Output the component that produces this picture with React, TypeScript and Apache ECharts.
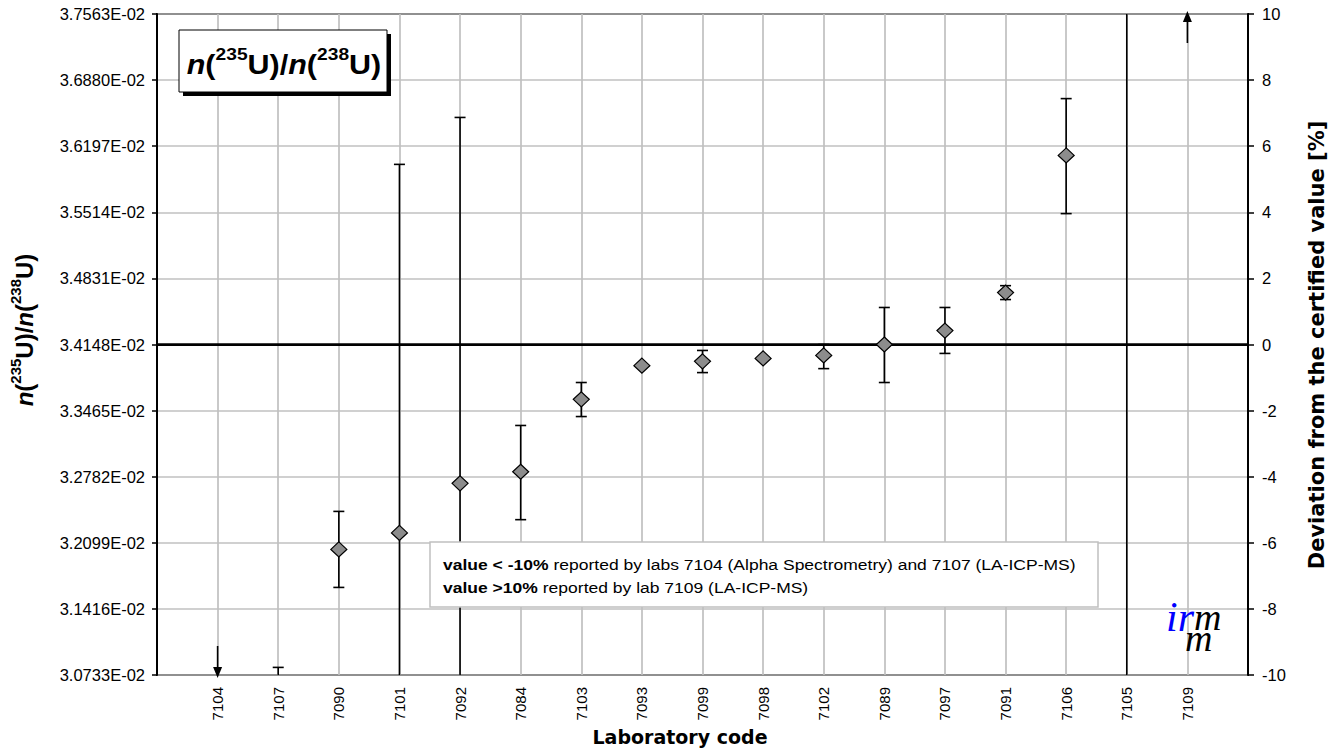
import React, { useEffect, useRef } from "react";
import * as echarts from "echarts";

// Laboratory codes (x categories)
const labs = ["7104", "7107", "7090", "7101", "7092", "7084", "7103", "7093", "7099", "7098", "7102", "7089", "7097", "7091", "7106", "7105", "7109"];
// Deviation from certified value [%] (null = not plotted / off scale)
const deviation = [null, null, -6.2, -5.7, -4.2, -3.85, -1.66, -0.64, -0.51, -0.42, -0.33, 0.0, 0.42, 1.57, 5.72, null, null];
// Upper / lower uncertainty limits [%] (values beyond +/-10 run off scale)
const upperLimit = [null, -9.77, -5.05, 5.45, 6.87, -2.45, -1.15, null, -0.18, null, 0.0, 1.12, 1.12, 1.78, 7.44, 12, null];
const lowerLimit = [null, -12, -7.35, -16.85, -15.3, -5.3, -2.18, null, -0.85, null, -0.73, -1.15, -0.27, 1.36, 3.96, -12, null];
// Off-scale results shown with arrows
const belowRangeLabs = ["7104"];
const aboveRangeLabs = ["7109"];
// Left axis tick labels (absolute ratio), bottom to top
const leftTickLabels = ["3.0733E-02", "3.1416E-02", "3.2099E-02", "3.2782E-02", "3.3465E-02", "3.4148E-02", "3.4831E-02", "3.5514E-02", "3.6197E-02", "3.6880E-02", "3.7563E-02"];
const certifiedDeviation = 0;

const categories = ["", ...labs, ""];

export default function App() {
  const ref = useRef<HTMLDivElement>(null);
  useEffect(() => {
    if (!ref.current) return;
    const chart = echarts.init(ref.current, null, { renderer: "svg" });
    const yMin = -10;
    const yMax = 10;
    const sx = 1.13;

    const errData: any[] = [];
    labs.forEach((l, i) => {
      if (upperLimit[i] != null && lowerLimit[i] != null) errData.push([i + 1, upperLimit[i], lowerLimit[i]]);
    });
    const pointData: any[] = [];
    labs.forEach((l, i) => {
      if (deviation[i] != null) pointData.push([l, deviation[i]]);
    });
    const arrowData: any[] = [];
    labs.forEach((l, i) => {
      if (belowRangeLabs.includes(l)) arrowData.push([i + 1, -1]);
      if (aboveRangeLabs.includes(l)) arrowData.push([i + 1, 1]);
    });

    const tickFont = "Liberation Sans";
    const titleRich = (big: number, small: number, lh: number) => ({
      i: { fontFamily: "Liberation Sans", fontWeight: "bold", fontStyle: "italic", fontSize: big, fill: "#000", verticalAlign: "bottom", lineHeight: lh },
      b: { fontFamily: "Liberation Sans", fontWeight: "bold", fontSize: big, fill: "#000", verticalAlign: "bottom", lineHeight: lh },
      s: { fontFamily: "Liberation Sans", fontWeight: "bold", fontSize: small, fill: "#000", verticalAlign: "top", lineHeight: lh },
    });
    const titleText = "{i|n}{b|(}{s|235}{b|U)/}{i|n}{b|(}{s|238}{b|U)}";

    const option: any = {
      animation: false,
      backgroundColor: "#fff",
      grid: { left: 157, right: 83, top: 14, bottom: 74, show: true, borderColor: "#000", borderWidth: 2, backgroundColor: "#fff" },
      xAxis: {
        type: "category",
        data: categories,
        boundaryGap: false,
        axisLine: { lineStyle: { color: "#000", width: 2 } },
        axisTick: { show: false },
        axisLabel: { interval: 0, rotate: 90, margin: 12, color: "#000", fontFamily: tickFont, fontSize: 15 },
        splitLine: { show: true, interval: 0, lineStyle: { color: "#c0c0c0", width: 1.7 } },
      },
      yAxis: [
        {
          type: "value",
          min: yMin,
          max: yMax,
          interval: 2,
          position: "left",
          axisLine: { show: true, lineStyle: { color: "#000", width: 2 } },
          axisTick: { show: true, length: 5, lineStyle: { color: "#000", width: 1.5 } },
          axisLabel: {
            color: "#000",
            fontFamily: tickFont,
            fontSize: 16.5,
            margin: 12,
            formatter: (v: number) => leftTickLabels[Math.round((v - yMin) / 2)] ?? "",
          },
          splitLine: { show: true, lineStyle: { color: "#c0c0c0", width: 1.7 } },
        },
        {
          type: "value",
          min: yMin,
          max: yMax,
          interval: 2,
          position: "right",
          axisLine: { show: true, lineStyle: { color: "#000", width: 2 } },
          axisTick: { show: true, length: 6, lineStyle: { color: "#000", width: 1.5 } },
          axisLabel: { color: "#000", fontFamily: tickFont, fontSize: 16.5, margin: 14 },
          splitLine: { show: false },
        },
      ],
      series: [
        {
          type: "custom",
          name: "uncertainty",
          xAxisIndex: 0,
          yAxisIndex: 1,
          z: 3,
          clip: true,
          data: errData,
          encode: { x: 0, y: [1, 2] },
          renderItem: (params: any, api: any) => {
            const xi = api.value(0);
            const hi = api.value(1);
            const lo = api.value(2);
            const pHi = api.coord([xi, Math.min(hi, yMax)]);
            const pLo = api.coord([xi, Math.max(lo, yMin)]);
            const st = { stroke: "#000", lineWidth: 1.6 };
            const cap = 5.5;
            const children: any[] = [
              { type: "line", shape: { x1: pHi[0], y1: pHi[1], x2: pLo[0], y2: pLo[1] }, style: st },
            ];
            if (hi <= yMax) children.push({ type: "line", shape: { x1: pHi[0] - cap, y1: pHi[1], x2: pHi[0] + cap, y2: pHi[1] }, style: st });
            if (lo >= yMin) children.push({ type: "line", shape: { x1: pLo[0] - cap, y1: pLo[1], x2: pLo[0] + cap, y2: pLo[1] }, style: st });
            return { type: "group", children };
          },
          markLine: {
            silent: true,
            symbol: "none",
            label: { show: false },
            lineStyle: { color: "#000", width: 2.5, type: "solid" },
            data: [{ yAxis: certifiedDeviation }],
          },
        },
        {
          type: "custom",
          name: "offscale",
          xAxisIndex: 0,
          yAxisIndex: 1,
          z: 4,
          data: arrowData,
          encode: { x: 0, y: 1 },
          renderItem: (params: any, api: any) => {
            const xi = api.value(0);
            const dir = api.value(1);
            const edge = api.coord([xi, dir < 0 ? yMin : yMax]);
            const tipY = edge[1] - dir * 3;
            const tailY = tipY + dir * 32;
            const headY = tipY + dir * 11;
            return {
              type: "group",
              children: [
                { type: "line", shape: { x1: edge[0], y1: tailY, x2: edge[0], y2: headY }, style: { stroke: "#000", lineWidth: 1.6 } },
                { type: "polygon", shape: { points: [[edge[0], tipY], [edge[0] - 4.5, headY], [edge[0] + 4.5, headY]] }, style: { fill: "#000" } },
              ],
            };
          },
        },
        {
          type: "scatter",
          name: "result",
          xAxisIndex: 0,
          yAxisIndex: 1,
          z: 5,
          symbol: "diamond",
          symbolSize: [16, 15],
          itemStyle: { color: "#8c8c8c", borderColor: "#000", borderWidth: 1.2, opacity: 1 },
          data: pointData,
        },
      ],
      graphic: [
        // title box
        { type: "rect", shape: { x: 183, y: 34, width: 208, height: 62 }, style: { fill: "#000" }, z: 10 },
        { type: "rect", shape: { x: 179, y: 30, width: 208, height: 62 }, style: { fill: "#fff", stroke: "#000", lineWidth: 1 }, z: 11 },
        {
          type: "text",
          x: 284,
          y: 62,
          z: 12,
          scaleX: sx,
          style: { text: titleText, align: "center", verticalAlign: "middle", rich: titleRich(27, 17, 32) },
        },
        // left axis title
        {
          type: "text",
          x: 22,
          y: 330,
          rotation: Math.PI / 2,
          style: { text: titleText, align: "center", verticalAlign: "middle", rich: titleRich(24, 15, 28) },
        },
        // right axis title
        {
          type: "text",
          x: 1317,
          y: 345,
          rotation: Math.PI / 2,
          style: {
            text: "Deviation from the certified value [%]",
            align: "center",
            verticalAlign: "middle",
            fontFamily: "DejaVu Sans",
            fontWeight: "bold",
            fontSize: 21,
            fill: "#000",
          },
        },
        // x axis title
        {
          type: "text",
          x: 680,
          y: 737,
          style: {
            text: "Laboratory code",
            align: "center",
            verticalAlign: "middle",
            fontFamily: "DejaVu Sans",
            fontWeight: "bold",
            fontSize: 19,
            fill: "#000",
          },
        },
        // note box
        { type: "rect", shape: { x: 430, y: 542, width: 668, height: 65 }, style: { fill: "#fff", stroke: "#c0c0c0", lineWidth: 1.5 }, z: 10 },
        {
          type: "text",
          x: 443,
          y: 565,
          z: 11,
          scaleX: sx,
          style: {
            text: "{b|value < -10%} reported by labs 7104 (Alpha Spectrometry) and 7107 (LA-ICP-MS)",
            verticalAlign: "middle",
            fontFamily: "Liberation Sans",
            fontSize: 15.5,
            fill: "#000",
            rich: { b: { fontFamily: "Liberation Sans", fontSize: 15.5, fontWeight: "bold", fill: "#000" } },
          },
        },
        {
          type: "text",
          x: 443,
          y: 588,
          z: 11,
          scaleX: sx,
          style: {
            text: "{b|value >10%} reported by lab 7109 (LA-ICP-MS)",
            verticalAlign: "middle",
            fontFamily: "Liberation Sans",
            fontSize: 15.5,
            fill: "#000",
            rich: { b: { fontFamily: "Liberation Sans", fontSize: 15.5, fontWeight: "bold", fill: "#000" } },
          },
        },
        // irm logo (single rich text)
        {
          type: "text",
          x: 1166,
          y: 606,
          z: 12,
          style: {
            text: "{b|ir}{k|m}\n{k2|m}",
            align: "left",
            verticalAlign: "top",
            rich: {
              b: { fontFamily: "Liberation Serif", fontStyle: "italic", fontSize: 42, fill: "#0000ff", lineHeight: 21 },
              k: { fontFamily: "Liberation Serif", fontStyle: "italic", fontSize: 38, fill: "#000", lineHeight: 21 },
              k2: { fontFamily: "Liberation Serif", fontStyle: "italic", fontSize: 38, fill: "#000", lineHeight: 21, padding: [0, 0, 0, 19] },
            },
          },
        },
      ],
    };
    chart.setOption(option);
    return () => chart.dispose();
  }, []);
  return <div ref={ref} style={{ width: 1331, height: 749, position: "absolute", left: 0, top: 0 }} />;
}
